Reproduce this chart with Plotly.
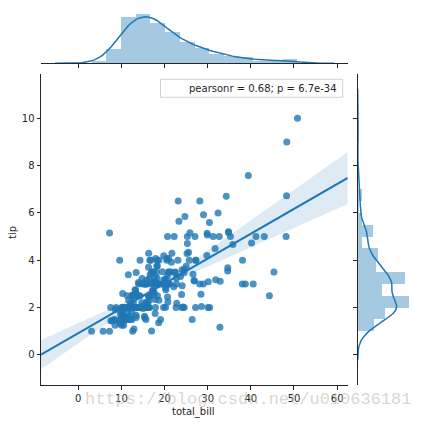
import numpy as np
import plotly.graph_objects as go

total_bill = [16.99, 10.34, 21.01, 23.68, 24.59, 25.29, 8.77, 26.88, 15.04, 14.78,
              10.27, 35.26, 15.42, 18.43, 14.83, 21.58, 10.33, 16.29, 16.97, 20.65,
              17.92, 20.29, 15.77, 39.42, 19.82, 17.81, 13.37, 12.69, 21.70, 19.65,
              9.55, 18.35, 15.06, 20.69, 17.78, 24.06, 16.31, 16.93, 18.69, 31.27,
              16.04, 17.46, 13.94, 9.68, 30.40, 18.29, 22.23, 32.40, 28.55, 18.04,
              12.54, 10.29, 34.81, 9.94, 25.56, 19.49, 38.01, 26.41, 11.24, 48.27,
              20.29, 13.81, 11.02, 18.29, 17.59, 20.08, 16.45, 3.07, 20.23, 15.01,
              12.02, 17.07, 26.86, 25.28, 14.73, 10.51, 17.92, 27.20, 22.76, 17.29,
              19.44, 16.66, 10.07, 32.68, 15.98, 34.83, 13.03, 18.28, 24.71, 21.16,
              28.97, 22.49, 5.75, 16.32, 22.75, 40.17, 27.28, 12.03, 21.01, 12.46,
              11.35, 15.38, 44.30, 22.42, 20.92, 15.36, 20.49, 25.21, 18.24, 14.31,
              14.00, 7.25, 38.07, 23.95, 25.71, 17.31, 29.93, 10.65, 12.43, 24.08,
              11.69, 13.42, 14.26, 15.95, 12.48, 29.80, 8.52, 14.52, 11.38, 22.82,
              19.08, 20.27, 11.17, 12.26, 18.26, 8.51, 10.33, 14.15, 16.00, 13.16,
              17.47, 34.30, 41.19, 27.05, 16.43, 8.35, 18.64, 11.87, 9.78, 7.51,
              14.07, 13.13, 17.26, 24.55, 19.77, 29.85, 48.17, 25.00, 13.39, 16.49,
              21.50, 12.66, 16.21, 13.81, 17.51, 24.52, 20.76, 31.71, 10.59, 10.63,
              50.81, 15.81, 7.25, 31.85, 16.82, 32.90, 17.89, 14.48, 9.60, 34.63,
              34.65, 23.33, 45.35, 23.17, 40.55, 20.69, 20.90, 30.46, 18.15, 23.10,
              15.69, 19.81, 28.44, 15.48, 16.58, 7.56, 10.34, 43.11, 13.00, 13.51,
              18.71, 12.74, 13.00, 16.40, 20.53, 16.47, 26.59, 38.73, 24.27, 12.76,
              30.06, 25.89, 48.33, 13.27, 28.17, 12.90, 28.15, 11.59, 7.74, 30.14,
              12.16, 13.42, 8.58, 15.98, 13.42, 16.27, 10.09, 20.45, 13.28, 22.12,
              24.01, 15.69, 11.61, 10.77, 15.53, 10.07, 12.60, 32.83, 35.83, 29.03,
              27.18, 22.67, 17.82, 18.78]

tip = [1.01, 1.66, 3.50, 3.31, 3.61, 4.71, 2.00, 3.12, 1.96, 3.23,
       1.71, 5.00, 1.57, 3.00, 3.02, 3.92, 1.67, 3.71, 3.50, 3.35,
       4.08, 2.75, 2.23, 7.58, 3.18, 2.34, 2.00, 2.00, 4.30, 3.00,
       1.45, 2.50, 3.00, 2.45, 3.27, 3.60, 2.00, 3.07, 2.31, 5.00,
       2.24, 2.54, 3.06, 1.32, 5.60, 3.00, 5.00, 6.00, 2.05, 3.00,
       2.50, 2.60, 5.20, 1.56, 4.34, 3.51, 3.00, 1.50, 1.76, 6.73,
       3.21, 2.00, 1.98, 3.76, 2.64, 3.15, 2.47, 1.00, 2.01, 2.09,
       1.97, 3.00, 3.14, 5.00, 2.20, 1.25, 3.08, 4.00, 3.00, 2.71,
       3.00, 3.40, 1.83, 5.00, 2.03, 5.17, 2.00, 4.00, 5.85, 3.00,
       3.00, 3.50, 1.00, 4.30, 3.25, 4.73, 4.00, 1.50, 3.00, 1.50,
       2.50, 3.00, 2.50, 3.48, 4.08, 1.64, 4.06, 4.29, 3.76, 4.00,
       3.00, 1.00, 4.00, 2.55, 4.00, 3.50, 5.07, 1.50, 1.80, 2.92,
       2.31, 1.68, 2.50, 2.00, 2.52, 4.20, 1.48, 2.00, 2.00, 2.18,
       1.50, 2.83, 1.50, 2.00, 3.25, 1.25, 2.00, 2.00, 2.00, 2.75,
       3.50, 6.70, 5.00, 5.00, 2.30, 1.50, 1.36, 1.63, 1.73, 2.00,
       2.50, 2.00, 2.74, 2.00, 2.00, 5.14, 5.00, 3.75, 2.61, 2.00,
       3.50, 2.50, 2.00, 2.00, 3.00, 3.48, 2.24, 4.50, 1.61, 2.00,
       10.00, 3.16, 5.15, 3.18, 4.00, 3.11, 2.00, 2.00, 4.00, 3.55,
       3.68, 5.65, 3.50, 6.50, 3.00, 5.00, 3.50, 2.00, 3.50, 4.00,
       1.50, 4.19, 2.56, 2.02, 4.00, 1.44, 2.00, 5.00, 2.00, 2.00,
       4.00, 2.01, 2.00, 2.50, 4.00, 3.23, 3.41, 3.00, 2.03, 2.23,
       2.00, 5.16, 9.00, 2.50, 6.50, 1.10, 3.00, 1.50, 1.44, 3.09,
       2.20, 3.48, 1.92, 3.00, 1.58, 2.50, 2.00, 3.00, 2.72, 2.88,
       2.00, 3.00, 3.39, 1.47, 3.00, 1.25, 1.00, 1.17, 4.67, 5.92,
       2.00, 2.00, 1.75, 3.00]

stat_label = "pearsonr = 0.68; p = 6.7e-34"
x_label = "total_bill"
y_label = "tip"
x_ticks = [0, 10, 20, 30, 40, 50, 60]
y_ticks = [0, 2, 4, 6, 8, 10]
watermark = "https://blog.csdn.net/u010636181"

W, H = 421, 424
def px(v): return v / W
def py(v): return (H - v) / H

x = np.array(total_bill, dtype=float)
y = np.array(tip, dtype=float)
XR = [-8.64, 62.45]
YR = [-1.27, 11.87]

BLUE = "rgb(31,119,180)"

# regression with 95% CI (heteroscedasticity-consistent, HC3)
n = len(x)
X = np.column_stack([np.ones(n), x])
XtX_inv = np.linalg.inv(X.T @ X)
beta = XtX_inv @ X.T @ y
resid = y - X @ beta
lev = np.einsum("ij,jk,ik->i", X, XtX_inv, X)
w = resid ** 2 / (1 - lev) ** 2
V = XtX_inv @ (X.T * w) @ X @ XtX_inv
grid = np.linspace(XR[0], XR[1], 100)
G = np.column_stack([np.ones_like(grid), grid])
yhat = G @ beta
se = np.sqrt(np.einsum("ij,jk,ik->i", G, V, G))
lo, hi = yhat - 1.97 * se, yhat + 1.97 * se

def bw_scott(a):
    q75, q25 = np.percentile(a, [75, 25])
    A = min(a.std(ddof=1), (q75 - q25) / 1.349)
    return 1.059 * A * len(a) ** (-0.2)

def kde(a, gridsize=100, cut=3):
    bw = bw_scott(a)
    g = np.linspace(a.min() - cut * bw, a.max() + cut * bw, gridsize)
    d = np.exp(-0.5 * ((g[:, None] - a[None, :]) / bw) ** 2).sum(1) / (len(a) * bw * np.sqrt(2 * np.pi))
    return g, d

def fd_bins(a):
    q75, q25 = np.percentile(a, [75, 25])
    h = 2 * (q75 - q25) * len(a) ** (-1.0 / 3)
    return int(min(np.ceil((a.max() - a.min()) / h), 50))

hx, ex = np.histogram(x, bins=fd_bins(x), density=True)
hy, ey = np.histogram(y, bins=fd_bins(y), density=True)
kx_g, kx_d = kde(x)
ky_g, ky_d = kde(y)

fig = go.Figure()
# main scatter
fig.add_trace(go.Scatter(x=x, y=y, mode="markers", xaxis="x", yaxis="y",
                         marker=dict(size=7, color="rgba(31,119,180,0.8)", line=dict(width=0)),
                         showlegend=False, hoverinfo="skip"))
# CI band
fig.add_trace(go.Scatter(x=grid, y=hi, mode="lines", line=dict(width=0), xaxis="x", yaxis="y",
                         showlegend=False, hoverinfo="skip"))
fig.add_trace(go.Scatter(x=grid, y=lo, mode="lines", line=dict(width=0), fill="tonexty",
                         fillcolor="rgba(31,119,180,0.15)", xaxis="x", yaxis="y",
                         showlegend=False, hoverinfo="skip"))
fig.add_trace(go.Scatter(x=grid, y=yhat, mode="lines", line=dict(color=BLUE, width=2),
                         xaxis="x", yaxis="y", showlegend=False, hoverinfo="skip"))
# top marginal
fig.add_trace(go.Bar(x=(ex[:-1] + ex[1:]) / 2, y=hx, width=np.diff(ex), xaxis="x2", yaxis="y2",
                     marker=dict(color="rgba(31,119,180,0.4)", line=dict(width=0)),
                     showlegend=False, hoverinfo="skip"))
fig.add_trace(go.Scatter(x=kx_g, y=kx_d, mode="lines", line=dict(color=BLUE, width=1.5),
                         xaxis="x2", yaxis="y2", showlegend=False, hoverinfo="skip"))
# right marginal
fig.add_trace(go.Bar(y=(ey[:-1] + ey[1:]) / 2, x=hy, width=np.diff(ey), orientation="h",
                     xaxis="x3", yaxis="y3",
                     marker=dict(color="rgba(31,119,180,0.4)", line=dict(width=0)),
                     showlegend=False, hoverinfo="skip"))
fig.add_trace(go.Scatter(x=ky_d, y=ky_g, mode="lines", line=dict(color=BLUE, width=1.5),
                         xaxis="x3", yaxis="y3", showlegend=False, hoverinfo="skip"))

tickfont = dict(family="DejaVu Sans", size=10, color="#262626")
main_x_dom = [px(41), px(347.7)]
main_y_dom = [py(385), py(74)]
top_max = max(hx.max(), kx_d.max()) * 1.05
right_max = max(hy.max(), ky_d.max()) * 1.05

common = dict(ticks="outside", ticklen=3.5, tickwidth=1, tickcolor="#262626", showline=True,
              linecolor="#262626", linewidth=1, showgrid=False, zeroline=False, automargin=False)

fig.update_layout(
    width=W, height=H, margin=dict(l=0, r=0, t=0, b=0, autoexpand=False),
    paper_bgcolor="white", plot_bgcolor="white", bargap=0,
    xaxis=dict(domain=main_x_dom, range=XR, anchor="y", tickvals=x_ticks, tickfont=tickfont, **common),
    yaxis=dict(domain=main_y_dom, range=YR, anchor="x", tickvals=y_ticks, tickfont=tickfont, **common),
    xaxis2=dict(domain=main_x_dom, range=XR, anchor="y2", tickvals=x_ticks, showticklabels=False, **common),
    yaxis2=dict(domain=[py(63.3), py(10.9)], range=[0, top_max], anchor="x2", visible=False, automargin=False),
    xaxis3=dict(domain=[px(357.7), px(411)], range=[0, right_max], anchor="y3", visible=False, automargin=False),
    yaxis3=dict(domain=main_y_dom, range=YR, anchor="x3", tickvals=y_ticks, showticklabels=False, **common),
    shapes=[dict(type="rect", xref="paper", yref="paper", x0=px(160.5), x1=px(342.7),
                 y0=py(97.3), y1=py(79.3), line=dict(color="#d0d0d0", width=1),
                 fillcolor="rgba(255,255,255,0.8)", layer="above")],
    annotations=[
        dict(text=stat_label, xref="paper", yref="paper", x=px(338.5), y=py(88.3),
             xanchor="right", yanchor="middle", showarrow=False, font=tickfont),
        dict(text=x_label, xref="paper", yref="paper", x=px(193), y=py(411.5),
             xanchor="center", yanchor="middle", showarrow=False, font=tickfont),
        dict(text=y_label, xref="paper", yref="paper", x=px(12), y=py(233),
             xanchor="center", yanchor="middle", textangle=-90, showarrow=False, font=tickfont),
        dict(text=watermark, xref="paper", yref="paper", x=px(248), y=py(399.5),
             xanchor="center", yanchor="middle", showarrow=False,
             font=dict(family="Liberation Mono", size=17, color="rgba(185,180,172,0.55)")),
    ],
)

fig.write_html("out.html", config={"displayModeBar": False},
               post_script="document.body.style.margin='0';document.body.style.overflow='hidden';")
